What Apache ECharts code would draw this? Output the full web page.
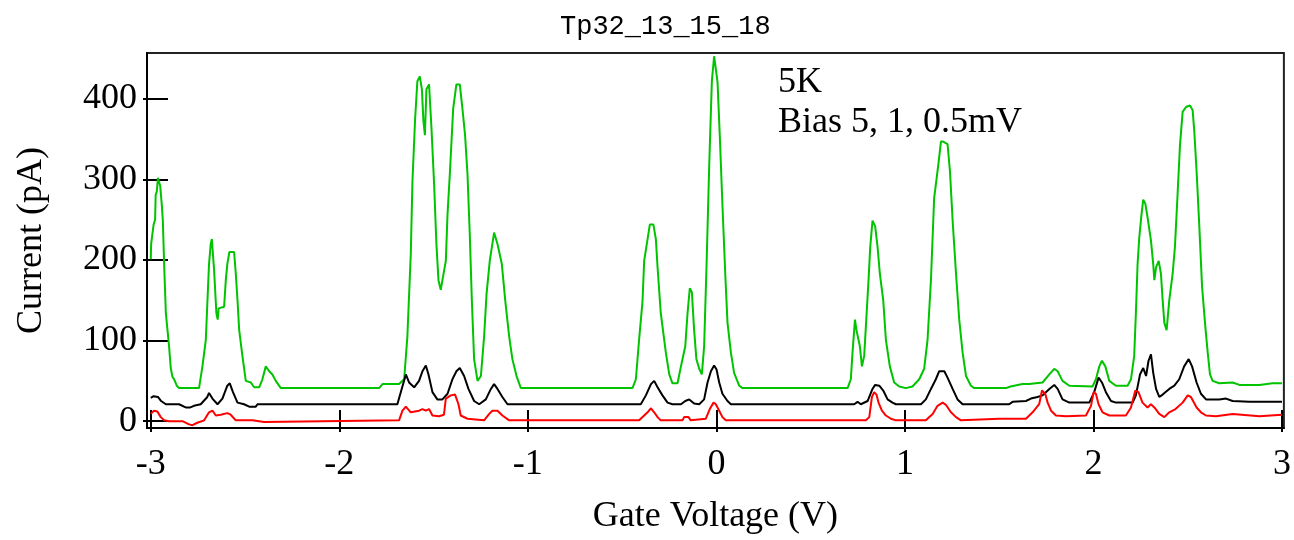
<!DOCTYPE html>
<html>
<head>
<meta charset="utf-8">
<title>Tp32_13_15_18</title>
<script src="https://cdn.jsdelivr.net/npm/echarts@6/dist/echarts.min.js"></script>
<style>
  html, body { margin: 0; padding: 0; background: #fff; }
  #chart { width: 1294px; height: 540px; }
</style>
</head>
<body>
<div id="chart"></div>
<script>
// Gate sweeps at 5K, three bias settings: [gate voltage (V), current (pA)]
const bias5mV = [
  [-3.000, 201], [-2.998, 220], [-2.990, 222], [-2.985, 244], [-2.977, 250], [-2.974, 281],
  [-2.968, 285], [-2.962, 302], [-2.955, 300], [-2.950, 292], [-2.942, 270], [-2.936, 249],
  [-2.929, 194], [-2.920, 134], [-2.910, 110], [-2.903, 93], [-2.894, 66], [-2.885, 55],
  [-2.876, 52], [-2.862, 44], [-2.850, 41], [-2.744, 41], [-2.726, 68], [-2.708, 101],
  [-2.700, 146], [-2.691, 195], [-2.682, 220], [-2.676, 226], [-2.671, 226], [-2.664, 187],
  [-2.652, 134], [-2.645, 126], [-2.640, 140], [-2.611, 142], [-2.602, 175], [-2.594, 195],
  [-2.583, 210], [-2.575, 212], [-2.558, 210], [-2.549, 183], [-2.540, 150], [-2.531, 113],
  [-2.514, 81], [-2.496, 50], [-2.469, 48], [-2.452, 42], [-2.425, 42], [-2.408, 52],
  [-2.390, 68], [-2.380, 66], [-2.372, 62], [-2.355, 58], [-2.337, 50], [-2.310, 41],
  [-1.789, 41], [-1.771, 46], [-1.683, 46], [-1.656, 52], [-1.639, 105], [-1.621, 207],
  [-1.612, 298], [-1.598, 375], [-1.586, 422], [-1.573, 428], [-1.562, 412], [-1.554, 373],
  [-1.546, 355], [-1.538, 412], [-1.524, 418], [-1.511, 363], [-1.497, 293], [-1.485, 220],
  [-1.474, 175], [-1.462, 163], [-1.453, 175], [-1.435, 199], [-1.426, 257], [-1.414, 306],
  [-1.396, 388], [-1.379, 418], [-1.361, 418], [-1.347, 388], [-1.333, 355], [-1.320, 306],
  [-1.308, 232], [-1.297, 150], [-1.285, 77], [-1.267, 50], [-1.249, 56], [-1.232, 105],
  [-1.219, 158], [-1.202, 199], [-1.179, 234], [-1.161, 220], [-1.138, 195], [-1.120, 150],
  [-1.099, 105], [-1.082, 77], [-1.060, 56], [-1.037, 41], [-0.445, 41], [-0.427, 52],
  [-0.410, 101], [-0.392, 148], [-0.383, 199], [-0.365, 226], [-0.353, 244], [-0.334, 244],
  [-0.321, 226], [-0.312, 191], [-0.295, 134], [-0.268, 85], [-0.250, 58], [-0.233, 47],
  [-0.206, 47], [-0.188, 68], [-0.165, 93], [-0.153, 134], [-0.141, 165], [-0.130, 160],
  [-0.118, 113], [-0.106, 77], [-0.091, 65], [-0.077, 58], [-0.065, 93], [-0.052, 195],
  [-0.038, 318], [-0.024, 422], [-0.012, 453], [-0.003, 452], [0.006, 421], [0.018, 355],
  [0.032, 269], [0.047, 183], [0.059, 122], [0.077, 85], [0.094, 60], [0.121, 44],
  [0.139, 41], [0.696, 41], [0.713, 52], [0.722, 85], [0.735, 126], [0.743, 113],
  [0.761, 93], [0.772, 68], [0.784, 81], [0.793, 118], [0.807, 175], [0.816, 216],
  [0.828, 249], [0.842, 242], [0.855, 216], [0.867, 183], [0.885, 150], [0.899, 101],
  [0.920, 68], [0.943, 48], [0.970, 43], [1.005, 41], [1.040, 43], [1.076, 52],
  [1.102, 65], [1.120, 101], [1.138, 175], [1.155, 277], [1.178, 320], [1.191, 347],
  [1.203, 347], [1.226, 344], [1.239, 310], [1.253, 249], [1.271, 183], [1.288, 126],
  [1.306, 85], [1.324, 56], [1.350, 44], [1.368, 41], [1.536, 41], [1.560, 43],
  [1.624, 46], [1.659, 46], [1.730, 48], [1.766, 58], [1.792, 65], [1.810, 62],
  [1.836, 50], [1.872, 44], [1.995, 43], [2.013, 52], [2.031, 68], [2.045, 75],
  [2.063, 68], [2.084, 50], [2.119, 44], [2.181, 44], [2.199, 52], [2.216, 81],
  [2.225, 134], [2.234, 195], [2.243, 228], [2.255, 257], [2.264, 275], [2.275, 270],
  [2.287, 253], [2.305, 224], [2.317, 195], [2.323, 175], [2.332, 191], [2.346, 199],
  [2.358, 183], [2.367, 150], [2.376, 122], [2.388, 113], [2.402, 150], [2.420, 183],
  [2.432, 216], [2.446, 281], [2.459, 343], [2.473, 384], [2.491, 390], [2.512, 392],
  [2.526, 386], [2.535, 359], [2.547, 310], [2.561, 244], [2.576, 167], [2.593, 118],
  [2.606, 85], [2.618, 58], [2.632, 50], [2.667, 47], [2.738, 48], [2.774, 45],
  [2.880, 45], [2.950, 47], [3.000, 47]
];

const bias1mV = [
  [-3.000, 29], [-2.985, 31], [-2.962, 30], [-2.945, 25], [-2.920, 21], [-2.850, 21],
  [-2.815, 17], [-2.790, 17], [-2.771, 19], [-2.735, 21], [-2.700, 30], [-2.691, 35],
  [-2.673, 28], [-2.646, 21], [-2.620, 28], [-2.594, 44], [-2.581, 47], [-2.564, 36],
  [-2.540, 23], [-2.505, 21], [-2.478, 18], [-2.443, 18], [-2.434, 21], [-1.692, 21],
  [-1.674, 36], [-1.647, 58], [-1.630, 48], [-1.603, 42], [-1.577, 50], [-1.559, 62],
  [-1.541, 69], [-1.527, 58], [-1.506, 36], [-1.480, 27], [-1.453, 27], [-1.426, 34],
  [-1.400, 52], [-1.379, 62], [-1.361, 66], [-1.338, 56], [-1.315, 40], [-1.285, 25],
  [-1.258, 21], [-1.223, 27], [-1.196, 40], [-1.179, 46], [-1.161, 40], [-1.135, 30],
  [-1.108, 21], [-0.401, 21], [-0.374, 32], [-0.347, 46], [-0.330, 50], [-0.312, 42],
  [-0.286, 32], [-0.259, 23], [-0.233, 21], [-0.188, 21], [-0.165, 25], [-0.144, 27],
  [-0.118, 22], [-0.091, 21], [-0.065, 27], [-0.047, 48], [-0.029, 62], [-0.012, 69],
  [0.001, 64], [0.015, 48], [0.032, 34], [0.059, 25], [0.077, 21], [0.731, 21],
  [0.749, 24], [0.766, 21], [0.802, 25], [0.828, 40], [0.842, 45], [0.864, 44],
  [0.885, 38], [0.908, 27], [0.934, 23], [0.952, 21], [1.085, 21], [1.111, 27],
  [1.138, 40], [1.164, 52], [1.182, 62], [1.209, 62], [1.226, 54], [1.253, 40],
  [1.279, 27], [1.306, 21], [1.553, 21], [1.571, 24], [1.642, 25], [1.668, 28],
  [1.703, 30], [1.730, 32], [1.766, 40], [1.792, 45], [1.810, 40], [1.836, 27],
  [1.872, 23], [1.978, 23], [2.004, 36], [2.027, 54], [2.045, 48], [2.066, 36],
  [2.093, 25], [2.119, 23], [2.208, 23], [2.225, 32], [2.247, 58], [2.264, 66],
  [2.279, 56], [2.292, 75], [2.305, 83], [2.317, 60], [2.332, 40], [2.349, 30],
  [2.367, 33], [2.402, 40], [2.429, 44], [2.455, 52], [2.481, 68], [2.505, 77],
  [2.523, 68], [2.547, 48], [2.570, 34], [2.597, 27], [2.667, 27], [2.703, 28],
  [2.738, 25], [2.827, 24], [3.000, 24]
];

const bias05mV = [
  [-3.000, 9], [-2.983, 13], [-2.965, 12], [-2.947, 5], [-2.929, 1], [-2.903, 0],
  [-2.832, 0], [-2.797, -4], [-2.779, -5], [-2.753, -2], [-2.717, 1], [-2.691, 11],
  [-2.673, 13], [-2.655, 7], [-2.629, 8], [-2.594, 10], [-2.576, 8], [-2.549, 1],
  [-2.461, 1], [-2.452, -1], [-2.399, -1], [-2.390, 1], [-1.683, 1], [-1.665, 13],
  [-1.647, 18], [-1.621, 11], [-1.577, 13], [-1.559, 15], [-1.541, 13], [-1.524, 15],
  [-1.506, 7], [-1.471, 6], [-1.445, 8], [-1.435, 28], [-1.409, 32], [-1.386, 33],
  [-1.368, 21], [-1.356, 7], [-1.320, 3], [-1.232, 1], [-1.205, 9], [-1.188, 13],
  [-1.161, 13], [-1.135, 7], [-1.099, 1], [-0.410, 1], [-0.383, 7], [-0.365, 11],
  [-0.347, 16], [-0.330, 11], [-0.312, 5], [-0.295, 1], [-0.180, 1], [-0.171, 5],
  [-0.148, 5], [-0.136, 1], [-0.056, 3], [-0.035, 15], [-0.015, 23], [-0.003, 21],
  [0.015, 13], [0.032, 5], [0.050, 1], [0.793, 1], [0.811, 5], [0.825, 30],
  [0.837, 36], [0.849, 33], [0.860, 23], [0.878, 13], [0.899, 7], [0.926, 3],
  [0.952, 1], [1.111, 1], [1.147, 9], [1.173, 19], [1.200, 23], [1.218, 20],
  [1.244, 11], [1.271, 5], [1.297, 1], [1.500, 3], [1.553, 3], [1.642, 3],
  [1.677, 11], [1.712, 21], [1.727, 38], [1.744, 34], [1.757, 23], [1.775, 13],
  [1.801, 7], [1.854, 6], [1.960, 7], [1.987, 19], [2.001, 36], [2.013, 34],
  [2.027, 21], [2.048, 11], [2.084, 7], [2.172, 7], [2.199, 17], [2.222, 38],
  [2.239, 36], [2.260, 23], [2.287, 17], [2.305, 21], [2.323, 17], [2.349, 9],
  [2.376, 5], [2.402, 11], [2.435, 15], [2.473, 23], [2.500, 32], [2.517, 30],
  [2.547, 17], [2.570, 11], [2.597, 7], [2.650, 6], [2.738, 9], [2.880, 6],
  [3.000, 8]
];

const xTicks = [-3, -2, -1, 0, 1, 2, 3];
const yTicks = [0, 100, 200, 300, 400];
const titleText = 'Tp32_13_15_18';
const noteText = '5K\nBias 5, 1, 0.5mV';

const serif = '"Liberation Serif", "DejaVu Serif", serif';
const X_MIN = -3.02, X_MAX = 3.01, Y_MIN = -8.5, Y_MAX = 457;

const chart = echarts.init(document.getElementById('chart'), null, { renderer: 'canvas' });

// inner axis carries line, labels and inward ticks; outer copy adds the short outward ticks
function xAxisDef(inner) {
  return {
    type: 'value', min: X_MIN, max: X_MAX, position: 'bottom',
    splitLine: { show: false },
    axisLine: { show: inner, onZero: false, lineStyle: { color: '#000', width: 2 } },
    axisTick: { show: true, inside: inner, length: inner ? 18 : 4, customValues: xTicks,
                lineStyle: { color: '#000', width: 2 } },
    axisLabel: { show: inner, customValues: xTicks, margin: 19, color: '#000',
                 fontFamily: serif, fontSize: 36, formatter: v => String(v) },
    name: inner ? 'Gate Voltage (V)' : '',
    nameLocation: 'middle', nameGap: 71,
    nameTextStyle: { color: '#000', fontFamily: serif, fontSize: 36 }
  };
}
function yAxisDef(inner) {
  return {
    type: 'value', min: Y_MIN, max: Y_MAX, position: 'left',
    splitLine: { show: false },
    axisLine: { show: inner, onZero: false, lineStyle: { color: '#000', width: 2 } },
    axisTick: { show: true, inside: inner, length: inner ? 21 : 4, customValues: yTicks,
                lineStyle: { color: '#000', width: 2 } },
    axisLabel: { show: inner, customValues: yTicks, margin: 10, color: '#000',
                 fontFamily: serif, fontSize: 36 },
    name: inner ? 'Current (pA)' : '',
    nameLocation: 'middle', nameGap: 97,
    nameTextStyle: { color: '#000', fontFamily: serif, fontSize: 36 }
  };
}

function trace(data, color) {
  return {
    type: 'line', data: data, xAxisIndex: 0, yAxisIndex: 0,
    showSymbol: false, symbol: 'none', animation: false,
    lineStyle: { color: color, width: 2 }, z: 3
  };
}

chart.setOption({
  backgroundColor: '#fff',
  animation: false,
  title: {
    text: titleText, left: 555, top: 8,
    textStyle: { color: '#000', fontFamily: '"Liberation Mono", monospace',
                 fontSize: 27, fontWeight: 'normal' }
  },
  grid: { left: 147, right: 9, top: 53, bottom: 107, show: true,
          borderColor: '#222', borderWidth: 2, backgroundColor: 'transparent' },
  xAxis: [xAxisDef(true), xAxisDef(false)],
  yAxis: [yAxisDef(true), yAxisDef(false)],
  series: [
    trace(bias5mV, '#00c400'),
    trace(bias1mV, '#000000'),
    trace(bias05mV, '#ff0000')
  ],
  graphic: [{
    type: 'text', left: 778, top: 63, z: 10,
    style: { text: noteText, fill: '#000', font: '36px ' + serif, lineHeight: 40 }
  }]
});
</script>
</body>
</html>
